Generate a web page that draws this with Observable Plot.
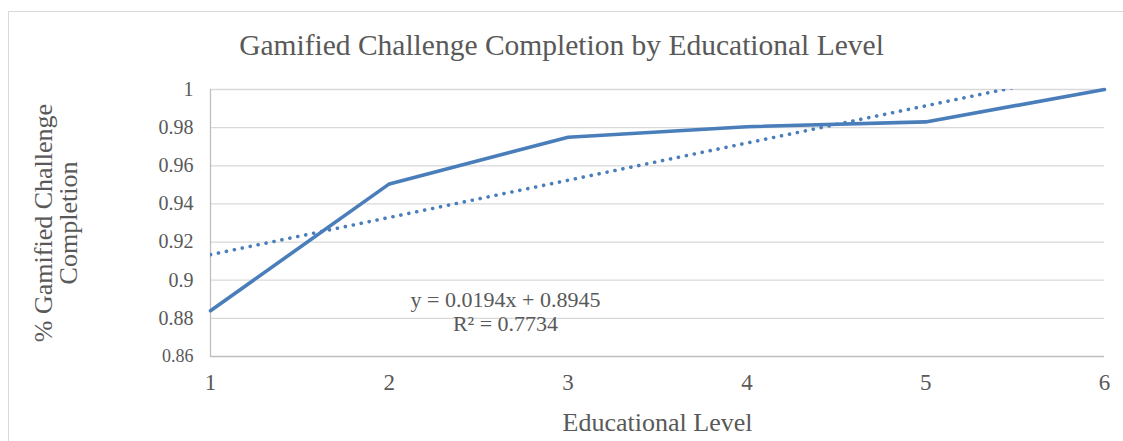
<!DOCTYPE html>
<html>
<head>
<meta charset="utf-8">
<script src="https://cdn.jsdelivr.net/npm/d3@7"></script>
<script src="https://cdn.jsdelivr.net/npm/@observablehq/plot@0.6"></script>
<style>
  html, body { margin: 0; padding: 0; background: #fff; }
  #wrap { position: relative; width: 1123px; height: 441px; overflow: hidden; font-family: "Liberation Serif", "Times New Roman", serif; }
  #border { position: absolute; left: 8px; top: 11px; width: 1200px; height: 500px; border: 1.5px solid #d9d9d9; box-sizing: border-box; }
  #title { position: relative; height: 70px; line-height: 90px; text-align: center; font-size: 29.5px; color: #595959; }
  #chart { position: relative; }
  svg { display: block; }
</style>
</head>
<body>
<div id="wrap">
  <div id="border"></div>
  <div id="title">Gamified Challenge Completion by Educational Level</div>
  <div id="chart"></div>
</div>
<script>
const levels = [1, 2, 3, 4, 5, 6];
const completion = [0.884, 0.9505, 0.975, 0.9805, 0.983, 1.0];
const yTicks = [0.88, 0.9, 0.92, 0.94, 0.96, 0.98, 1];
const yBottomTick = [0.86];
const trendEquation = "y = 0.0194x + 0.8945";
const trendR2 = "R² = 0.7734";
const annotationAt = { x: 2.65, y: 0.8838 };

const data = levels.map((x, i) => ({ x, y: completion[i] }));
const grey = "#595959";
const blue = "#4a7ebb";
const fmt = d => String(+d.toFixed(2));

const chart = Plot.plot({
  width: 1123,
  height: 371,
  marginTop: 19,
  marginBottom: 85,
  marginLeft: 210,
  marginRight: 19,
  style: { fontFamily: "'Liberation Serif', 'Times New Roman', serif", color: grey, background: "transparent", overflow: "visible" },
  x: { domain: [1, 6] },
  y: { domain: [0.86, 1] },
  marks: [
    Plot.gridY(yTicks, { stroke: "#d9d9d9", strokeOpacity: 1, strokeWidth: 1.3 }),
    Plot.ruleY([0.86], { stroke: "#bfbfbf", strokeWidth: 1.3 }),
    Plot.ruleX([1], { stroke: "#bfbfbf", strokeWidth: 1.3 }),
    Plot.axisY(yTicks, { tickSize: 0, tickPadding: 17, fontSize: 20, tickFormat: fmt, label: null, fill: grey }),
    Plot.axisY(yBottomTick, { tickSize: 0, tickPadding: 17, fontSize: 18, tickFormat: fmt, label: null, fill: grey }),
    Plot.axisX(levels, { tickSize: 0, tickPadding: 17, fontSize: 23, tickFormat: d => String(d), label: null, fill: grey }),
    Plot.text(["Educational Level"], { frameAnchor: "bottom", dy: 74, fontSize: 26, fill: grey }),
    Plot.text(["% Gamified Challenge\nCompletion"], { frameAnchor: "left", textAnchor: "middle", dx: -154, rotate: -90, fontSize: 26, fill: grey, lineHeight: 0.95 }),
    Plot.linearRegressionY(data, { x: "x", y: "y", ci: 0, stroke: blue, strokeWidth: 3.6, strokeDasharray: "0.1 8", strokeLinecap: "round", clip: true }),
    Plot.line(data, { x: "x", y: "y", stroke: blue, strokeWidth: 3.6, strokeLinejoin: "round" }),
    Plot.text([annotationAt], { x: "x", y: "y", text: () => trendEquation + "\n" + trendR2, fontSize: 22, fill: grey, lineHeight: 1.1 })
  ]
});
document.getElementById("chart").appendChild(chart);
</script>
</body>
</html>
